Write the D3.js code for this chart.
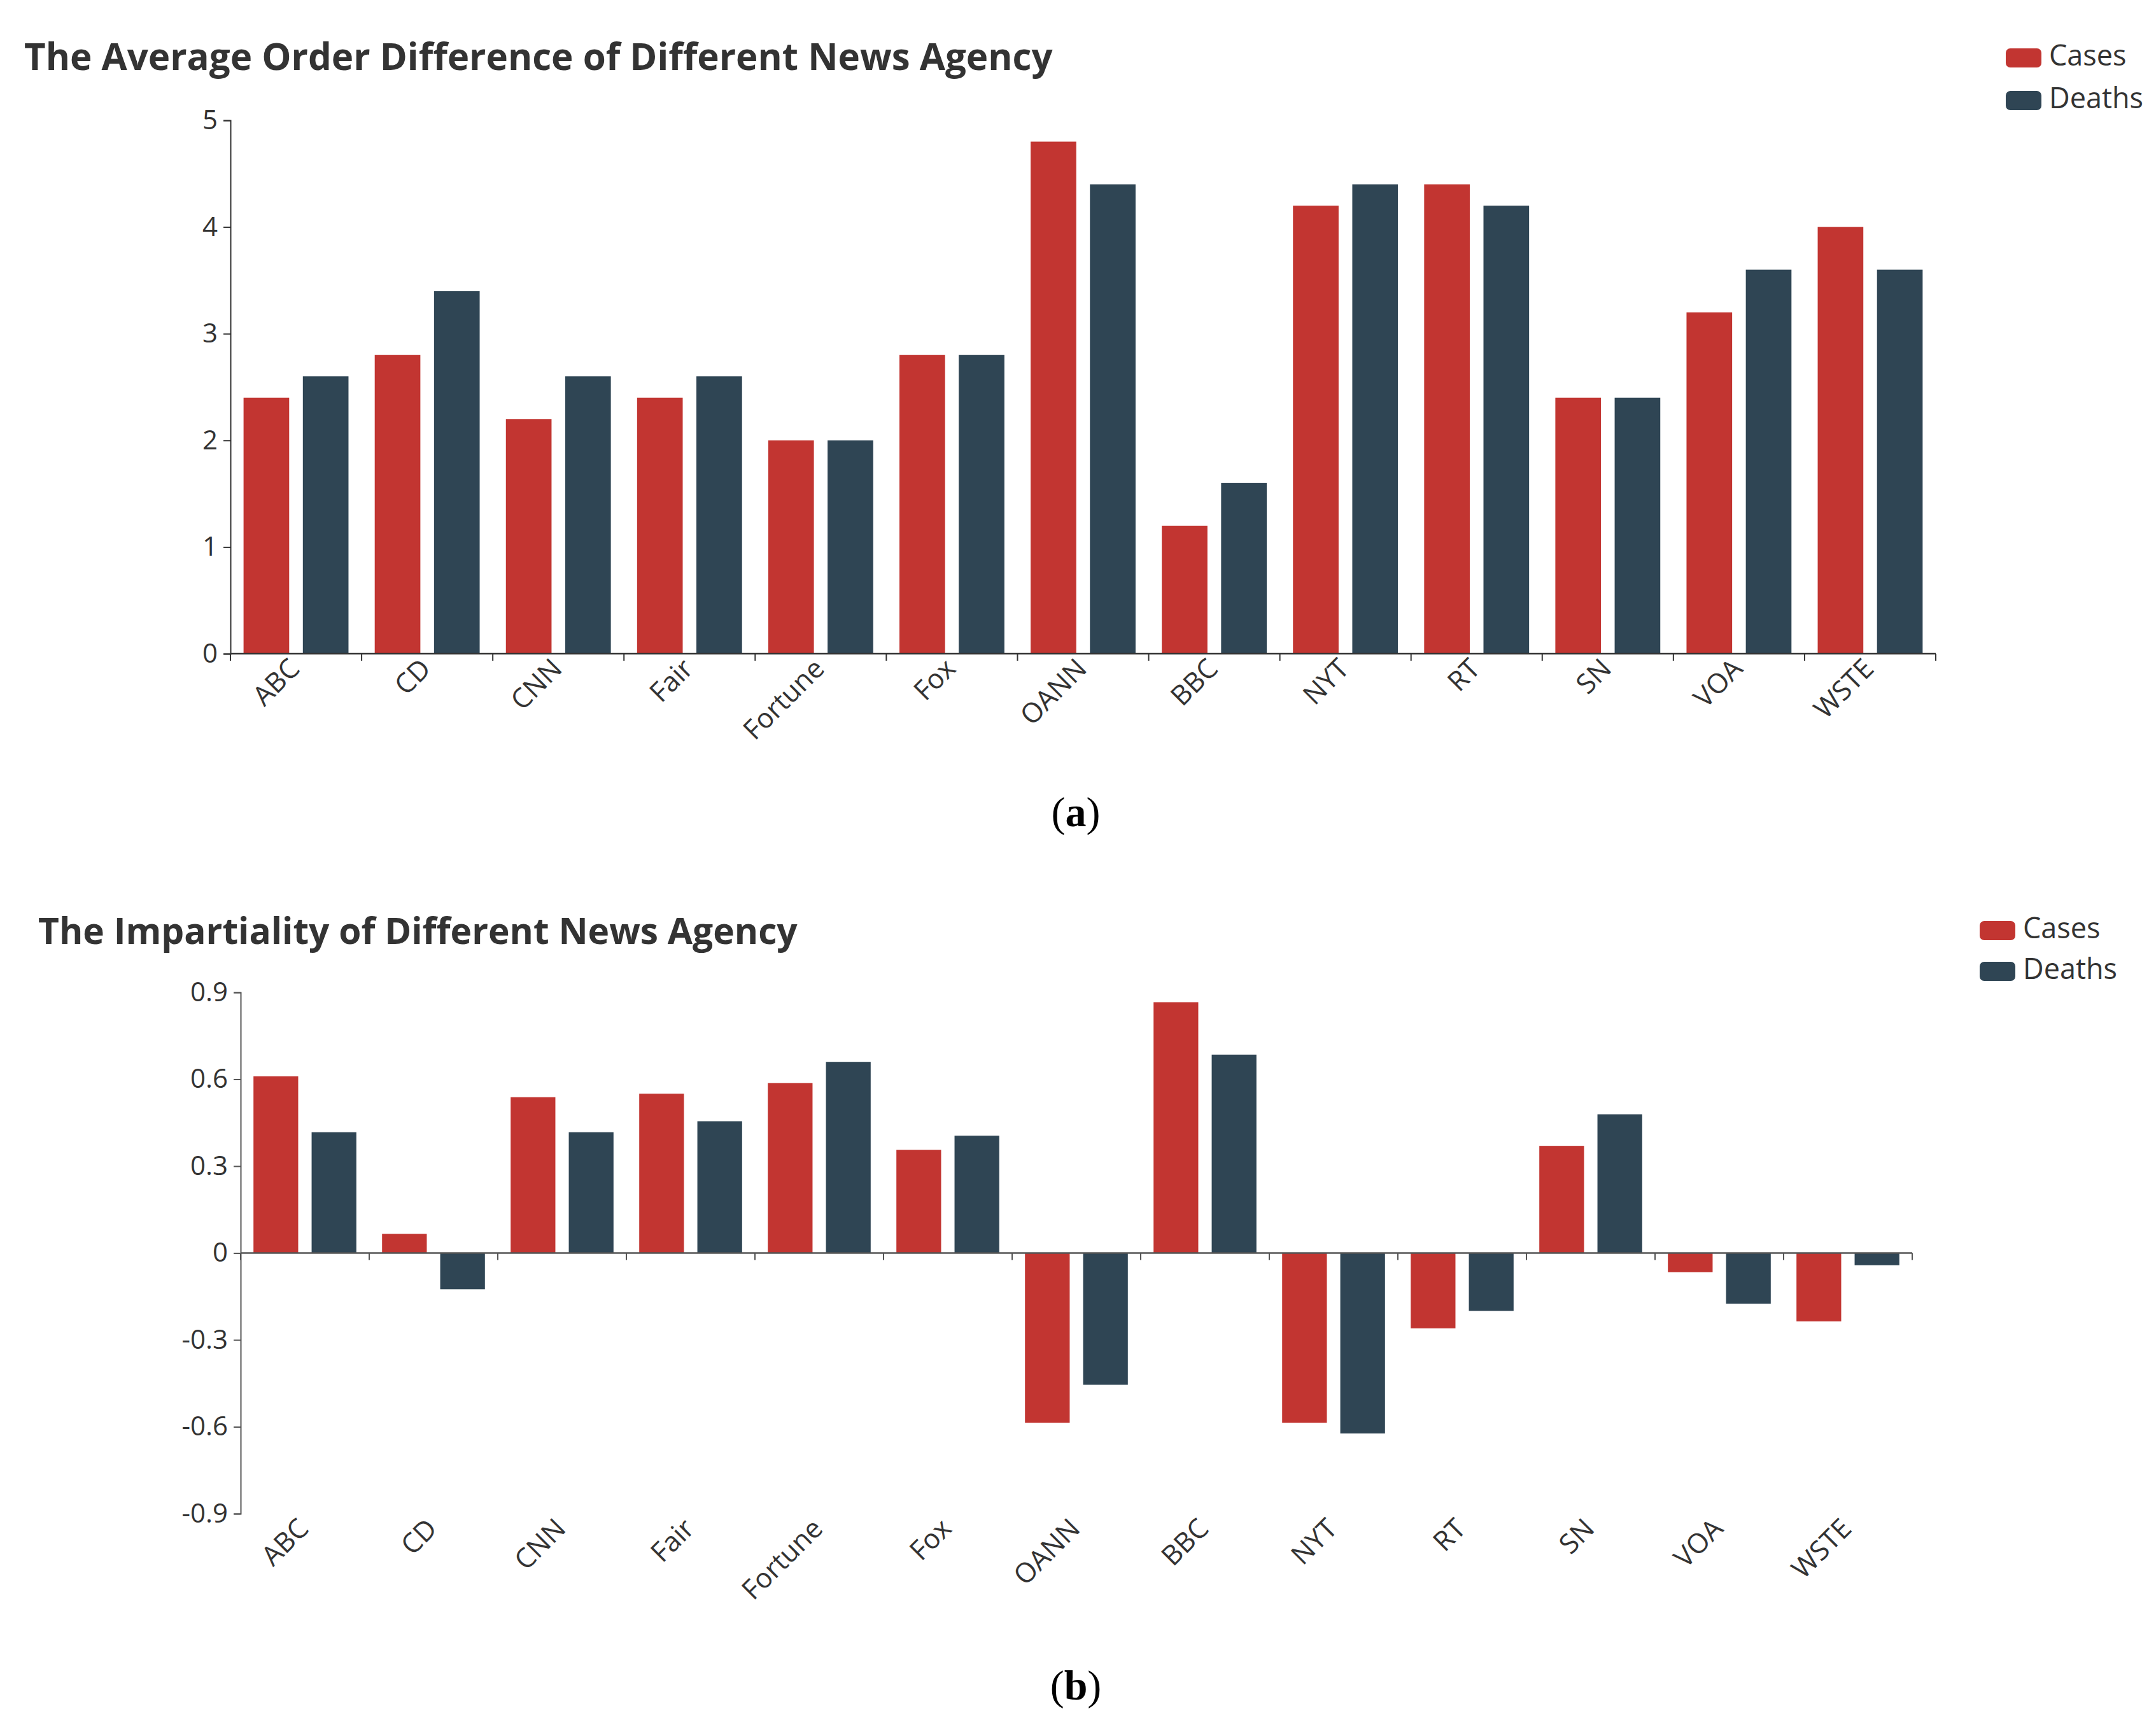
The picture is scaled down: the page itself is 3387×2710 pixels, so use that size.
<!DOCTYPE html>
<html>
<head>
<meta charset="utf-8">
<script src="https://cdn.jsdelivr.net/npm/d3@7"></script>
<style>
  body { margin: 0; background: #fff; }
  text { font-family: "Open Sans", "Noto Sans", sans-serif; }
</style>
</head>
<body>
<svg id="fig" width="3387" height="2710"></svg>
<script>
// categories (news agencies)
var agencies = ["ABC", "CD", "CNN", "Fair", "Fortune", "Fox", "OANN", "BBC", "NYT", "RT", "SN", "VOA", "WSTE"];
var seriesNames = ["Cases", "Deaths"];
var colors = ["#c23531", "#2f4554"];

// (a) average order difference
var orderCases  = [2.4, 2.8, 2.2, 2.4, 2.0, 2.8, 4.8, 1.2, 4.2, 4.4, 2.4, 3.2, 4.0];
var orderDeaths = [2.6, 3.4, 2.6, 2.6, 2.0, 2.8, 4.4, 1.6, 4.4, 4.2, 2.4, 3.6, 3.6];
var orderTicks  = [0, 1, 2, 3, 4, 5];

// (b) impartiality
var impCases  = [0.61, 0.066, 0.538, 0.55, 0.587, 0.356, -0.586, 0.866, -0.586, -0.26, 0.37, -0.066, -0.236];
var impDeaths = [0.417, -0.125, 0.417, 0.455, 0.66, 0.405, -0.455, 0.685, -0.623, -0.2, 0.479, -0.175, -0.042];
var impTicks  = [-0.9, -0.6, -0.3, 0, 0.3, 0.6, 0.9];

var svg = d3.select("#fig");

function drawChart(o) {
  var g = svg.append("g");

  // title, fitted to the reference width
  var t = g.append("text")
    .attr("x", o.titleX).attr("y", o.titleY)
    .attr("fill", "#333").attr("font-weight", "bold")
    .attr("font-size", 60)
    .text(o.title);
  var len = t.node().getComputedTextLength();
  t.attr("font-size", 60 * o.titleW / len);

  // legend
  seriesNames.forEach(function(s, i) {
    g.append("rect")
      .attr("x", o.legX).attr("y", o.legY + i * o.legStep)
      .attr("width", 56).attr("height", 30).attr("rx", 7)
      .attr("fill", colors[i]);
    g.append("text")
      .attr("x", o.legX + 68).attr("y", o.legY + i * o.legStep + 27)
      .attr("font-size", 45).attr("fill", "#333")
      .text(s);
  });

  var x0 = d3.scaleBand().domain(agencies).range([o.left, o.right]);
  var bw = x0.bandwidth();
  var x1 = d3.scaleBand().domain(seriesNames)
    .range([bw * 0.1, bw * 0.9]).paddingInner(0.3 / 1.3);
  var y = d3.scaleLinear().domain(o.domain).range([o.bottom, o.top]);

  // bars
  var data = [];
  agencies.forEach(function(a, i) {
    data.push({ cat: a, s: "Cases", v: o.cases[i], c: colors[0] });
    data.push({ cat: a, s: "Deaths", v: o.deaths[i], c: colors[1] });
  });
  g.selectAll("rect.bar").data(data).enter().append("rect")
    .attr("class", "bar")
    .attr("x", function(d) { return x0(d.cat) + x1(d.s); })
    .attr("width", x1.bandwidth())
    .attr("y", function(d) { return y(Math.max(0, d.v)); })
    .attr("height", function(d) { return Math.abs(y(d.v) - y(0)); })
    .attr("fill", function(d) { return d.c; });

  // y axis (plain hyphen for negatives, like the original)
  var ya = g.append("g")
    .attr("transform", "translate(" + o.left + ",0)")
    .call(d3.axisLeft(y).tickValues(o.ticks).tickSize(11).tickPadding(9)
      .tickFormat(function(d) { return String(+d.toFixed(1)); }));
  ya.selectAll("text").attr("font-size", 42).attr("fill", "#333")
    .style("font-family", "'Open Sans', sans-serif");
  ya.selectAll("line, path").attr("stroke", o.axisColor).attr("stroke-width", 2);

  // x axis line with ticks on category boundaries
  var zeroY = y(0);
  g.append("line")
    .attr("x1", o.left).attr("x2", o.right)
    .attr("y1", zeroY).attr("y2", zeroY)
    .attr("stroke", o.axisColor).attr("stroke-width", 2.5);
  var bounds = agencies.map(function(a) { return x0(a); }).concat([o.right]);
  g.selectAll("line.xt").data(bounds).enter().append("line")
    .attr("class", "xt")
    .attr("x1", function(d) { return d; }).attr("x2", function(d) { return d; })
    .attr("y1", zeroY).attr("y2", zeroY + 11)
    .attr("stroke", o.axisColor).attr("stroke-width", 2);

  // rotated category labels
  g.selectAll("text.xl").data(agencies).enter().append("text")
    .attr("class", "xl")
    .attr("transform", function(d) {
      return "translate(" + (x0(d) + bw / 2) + "," + (o.labelY) + ") rotate(-45)";
    })
    .attr("text-anchor", "end")
    .attr("dominant-baseline", "middle")
    .attr("font-size", 43).attr("fill", "#333")
    .text(function(d) { return d; });

  // caption
  var cap = g.append("text")
    .attr("x", 1690).attr("y", o.capY)
    .attr("text-anchor", "middle")
    .style("font-family", "'Liberation Serif', 'DejaVu Serif', serif")
    .attr("font-size", 66).attr("fill", "#000");
  cap.append("tspan").text("(");
  cap.append("tspan").attr("font-weight", "bold").text(o.cap);
  cap.append("tspan").text(")");
}

drawChart({
  title: "The Average Order Difference of Different News Agency",
  titleX: 38, titleY: 110, titleW: 1616,
  legX: 3151, legY: 76, legStep: 67,
  left: 362, right: 3041, top: 189, bottom: 1027,
  domain: [0, 5], ticks: orderTicks,
  cases: orderCases, deaths: orderDeaths,
  axisColor: "#333",
  labelY: 1027 + 18,
  cap: "a", capY: 1298
});

drawChart({
  title: "The Impartiality of Different News Agency",
  titleX: 60, titleY: 1483, titleW: 1193,
  legX: 3110, legY: 1447, legStep: 64,
  left: 378, right: 3004, top: 1559, bottom: 2378,
  domain: [-0.9, 0.9], ticks: impTicks,
  cases: impCases, deaths: impDeaths,
  axisColor: "#555",
  labelY: 2378 + 18,
  cap: "b", capY: 2670
});
</script>
</body>
</html>
